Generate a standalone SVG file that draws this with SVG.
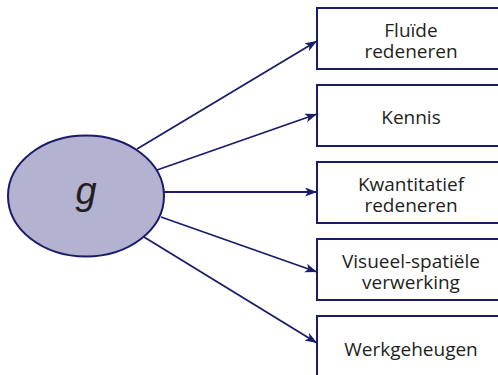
<svg xmlns="http://www.w3.org/2000/svg" width="498" height="375" viewBox="0 0 498 375">
<defs>
<marker id="ah" markerWidth="14" markerHeight="10" refX="12" refY="4.5" orient="auto" markerUnits="userSpaceOnUse">
<path d="M0,0 L12,4.5 L0,9 L3,4.5 z" fill="#1b1b6b"/>
</marker>
<style>
.box{fill:#fff;stroke:#1b1b6b;stroke-width:2}
.lbl{font-family:"Open Sans","Noto Sans",sans-serif;font-size:19px;fill:#231f20;text-anchor:middle}
.edge{stroke:#1b1b6b;stroke-width:1.8;fill:none;marker-end:url(#ah)}
</style>
</defs>
<rect width="498" height="375" fill="#fff"/>
<g id="connectors">
<line class="edge" x1="137" y1="149" x2="317" y2="41"/>
<line class="edge" x1="157" y1="170" x2="317" y2="114"/>
<line class="edge" x1="163" y1="192" x2="317" y2="192"/>
<line class="edge" x1="161" y1="217" x2="317" y2="272"/>
<line class="edge" x1="144" y1="237" x2="317" y2="343"/>
</g>
<g id="g">
<ellipse cx="86" cy="196" rx="78" ry="60.5" fill="#b3b3d1" stroke="#1b1b6b" stroke-width="2"/>
<text x="86" y="204" style="font-family:'Liberation Sans','DejaVu Sans',sans-serif;font-style:italic;font-size:38px;fill:#231f20;text-anchor:middle">g</text>
</g>
<g id="fluide">
<rect class="box" x="317" y="8" width="200" height="61"/>
<text class="lbl" x="411" y="36.5">Fluïde</text>
<text class="lbl" x="411" y="57.5">redeneren</text>
</g>
<g id="kennis">
<rect class="box" x="317" y="85" width="200" height="61"/>
<text class="lbl" x="411" y="124">Kennis</text>
</g>
<g id="kwantitatief">
<rect class="box" x="317" y="162" width="200" height="61"/>
<text class="lbl" x="411" y="190.5">Kwantitatief</text>
<text class="lbl" x="411" y="211.5">redeneren</text>
</g>
<g id="visueel">
<rect class="box" x="317" y="239" width="200" height="61"/>
<text class="lbl" x="411" y="267.5">Visueel-spatiële</text>
<text class="lbl" x="411" y="288.5">verwerking</text>
</g>
<g id="werkgeheugen">
<rect class="box" x="317" y="316" width="200" height="61"/>
<text class="lbl" x="411" y="356">Werkgeheugen</text>
</g>
</svg>
